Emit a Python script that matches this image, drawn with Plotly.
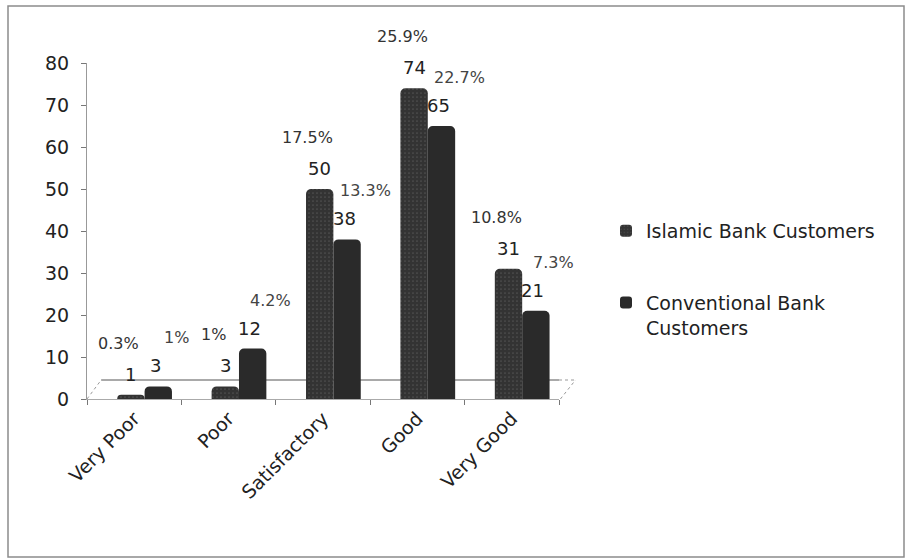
import plotly.graph_objects as go

# Survey ratings by customer group
categories = ["Very Poor", "Poor", "Satisfactory", "Good", "Very Good"]
islamic_counts = [1, 3, 50, 74, 31]
conventional_counts = [3, 12, 38, 65, 21]
islamic_pct = ["0.3%", "1%", "17.5%", "25.9%", "10.8%"]
conventional_pct = ["1%", "4.2%", "13.3%", "22.7%", "7.3%"]
y_ticks = [0, 10, 20, 30, 40, 50, 60, 70, 80]

W, H = 906, 559
ML, MR, MT, MB = 87, 347, 63, 160
plot_w = W - ML - MR
plot_h = H - MT - MB

FONT = "DejaVu Sans"
slot_px = plot_w / len(categories)

# bar geometry in category units (pair nudged right for a perspective feel)
BAR_W = 0.29
PAIR_SHIFT = 0.11
isl_offset = -BAR_W + PAIR_SHIFT
conv_offset = PAIR_SHIFT
isl_center_px = (isl_offset + BAR_W / 2) * slot_px
conv_center_px = (conv_offset + BAR_W / 2) * slot_px

fig = go.Figure()

fig.add_trace(go.Bar(
    name="Islamic Bank Customers",
    x=categories, y=islamic_counts,
    width=BAR_W, offset=isl_offset,
    legendgroup="isl",
    marker=dict(
        color="#333333",
        cornerradius=5,
        line=dict(width=0),
        pattern=dict(shape=".", fgcolor="#6e6e6e", bgcolor="#333333",
                     size=4, solidity=0.15),
    ),
))
fig.add_trace(go.Bar(
    name="Conventional Bank<br>Customers",
    x=categories, y=conventional_counts,
    width=BAR_W, offset=conv_offset,
    legendgroup="conv",
    marker=dict(color="#2a2a2a", cornerradius=5, line=dict(width=0)),
))

annotations = []
for cat, v, p in zip(categories, islamic_counts, islamic_pct):
    annotations.append(dict(x=cat, y=v, xref="x", yref="y", text=str(v),
                            showarrow=False, yanchor="bottom", xshift=isl_center_px,
                            yshift=8, font=dict(family=FONT, size=18, color="#222")))
    annotations.append(dict(x=cat, y=v, xref="x", yref="y", text=p,
                            showarrow=False, yanchor="bottom", xshift=isl_center_px - 12,
                            yshift=40, font=dict(family=FONT, size=16, color="#333")))
for cat, v, p in zip(categories, conventional_counts, conventional_pct):
    annotations.append(dict(x=cat, y=v, xref="x", yref="y", text=str(v),
                            showarrow=False, yanchor="bottom", xshift=conv_center_px - 3,
                            yshift=8, font=dict(family=FONT, size=18, color="#222")))
    annotations.append(dict(x=cat, y=v, xref="x", yref="y", text=p,
                            showarrow=False, yanchor="bottom", xshift=conv_center_px + 18,
                            yshift=37, font=dict(family=FONT, size=16, color="#444")))

shapes = [
    # outer frame of the chart
    dict(type="rect", xref="paper", yref="paper",
         x0=(8 - ML) / plot_w, x1=(904 - ML) / plot_w,
         y0=(MT + plot_h - 557) / plot_h, y1=(MT + plot_h - 6) / plot_h,
         line=dict(color="#8c8c8c", width=1.5), layer="below"),
    # back edge of the floor
    dict(type="line", xref="paper", yref="paper",
         x0=0.03, x1=1.0, y0=19 / plot_h, y1=19 / plot_h,
         line=dict(color="#555555", width=1), layer="below"),
    dict(type="line", xref="paper", yref="paper",
         x0=1.0, x1=1.035, y0=19 / plot_h, y1=19 / plot_h,
         line=dict(color="#999999", width=1, dash="dot"), layer="below"),
    # side edges of the floor
    dict(type="line", xref="paper", yref="paper",
         x0=0.0, x1=0.03, y0=0, y1=19 / plot_h,
         line=dict(color="#999999", width=1, dash="dot"), layer="below"),
    dict(type="line", xref="paper", yref="paper",
         x0=1.003, x1=1.035, y0=0, y1=19 / plot_h,
         line=dict(color="#999999", width=1, dash="dot"), layer="below"),
]

fig.update_layout(
    width=W, height=H,
    margin=dict(l=ML, r=MR, t=MT, b=MB),
    paper_bgcolor="white", plot_bgcolor="white",
    barmode="group",
    font=dict(family=FONT, size=18, color="#222"),
    showlegend=True,
    legend=dict(
        x=(606 - ML) / plot_w, xanchor="left",
        y=(MT + plot_h - 212) / plot_h, yanchor="top",
        font=dict(family=FONT, size=19, color="#222"),
        tracegroupgap=44, valign="top",
        bgcolor="rgba(0,0,0,0)",
    ),
    xaxis=dict(
        type="category", range=[-0.5, len(categories) - 0.5],
        tickangle=-45, tickson="boundaries",
        ticks="outside", ticklen=5, tickcolor="#777",
        showline=True, linecolor="#aaa", linewidth=1,
        showgrid=False, zeroline=False,
        tickfont=dict(family=FONT, size=19, color="#222"),
    ),
    yaxis=dict(
        range=[0, 80], tickvals=y_ticks,
        ticks="outside", ticklen=5, tickcolor="#777",
        showline=True, linecolor="#999", linewidth=1,
        showgrid=False, zeroline=False,
        ticklabelstandoff=8,
        tickfont=dict(family=FONT, size=19, color="#222"),
    ),
    annotations=annotations,
    shapes=shapes,
)

fig.write_html("out.html")
